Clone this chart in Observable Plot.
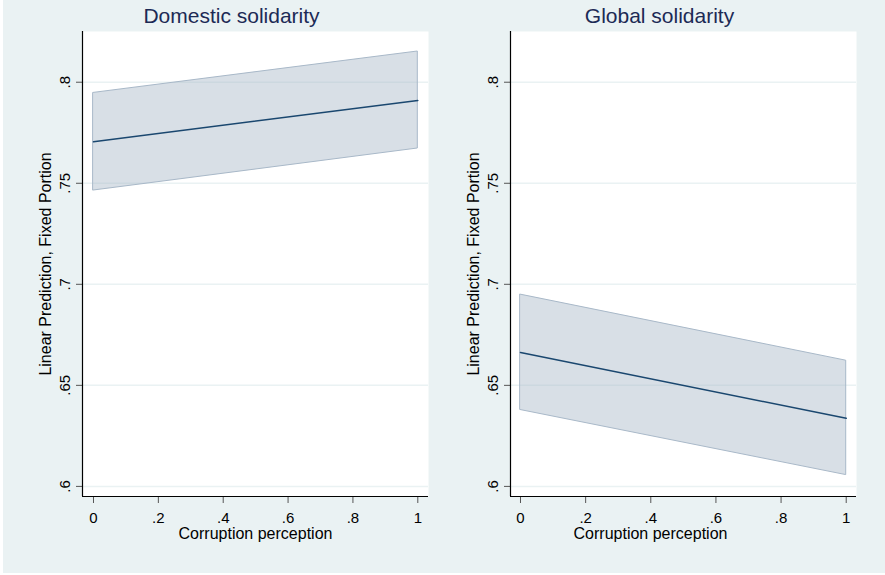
<!DOCTYPE html>
<html>
<head>
<meta charset="utf-8">
<script src="https://cdn.jsdelivr.net/npm/d3@7"></script>
<script src="https://cdn.jsdelivr.net/npm/@observablehq/plot@0.6"></script>
<style>
  html, body { margin: 0; padding: 0; background: #ffffff; }
  body { width: 885px; height: 575px; position: relative; overflow: hidden; font-family: "Liberation Sans", Arial, sans-serif; }
  #bg { position: absolute; left: 3px; top: 0; width: 882px; height: 573px; background: #eaf2f3; }
  .panel { position: absolute; top: 0; }
  .panel svg { background: transparent !important; overflow: visible; }
</style>
</head>
<body>
<div id="bg"></div>
<div id="left" class="panel" style="left:0px"></div>
<div id="right" class="panel" style="left:442px"></div>
<script>
// ---- data ----
const corruption = [0, 1];
const domesticFit = [0.7705, 0.7910];
const domesticLo  = [0.7464, 0.7672];
const domesticHi  = [0.7947, 0.8152];
const globalFit = [0.6663, 0.6337];
const globalLo  = [0.6378, 0.6056];
const globalHi  = [0.6949, 0.6622];

const xTicks = [0, 0.2, 0.4, 0.6, 0.8, 1];
const yTicks = [0.6, 0.65, 0.7, 0.75, 0.8];
const panelTitles = ["Domestic solidarity", "Global solidarity"];
const yTitle = "Linear Prediction, Fixed Portion";
const xTitle = "Corruption perception";

const fmt = d => String(d).replace(/^0(?=\.)/, "");

function panel({title, fit, lo, hi, width, marginLeft, marginRight, xDomain, xTitleDx}) {
  const rows = corruption.map((x, i) => ({x, fit: fit[i], lo: lo[i], hi: hi[i]}));
  const yDomain = [0.595, 0.8251];
  return Plot.plot({
    width, height: 575,
    marginLeft, marginRight, marginTop: 31, marginBottom: 79,
    style: {fontFamily: '"Liberation Sans", Arial, sans-serif', fontSize: "15px", background: "transparent", color: "black"},
    x: {domain: xDomain, ticks: xTicks, tickFormat: fmt},
    y: {domain: yDomain, ticks: yTicks, tickFormat: fmt},
    marks: [
      Plot.frame({fill: "white", stroke: null}),
      Plot.gridY(yTicks, {stroke: "#eaf2f3", strokeOpacity: 1, strokeWidth: 1.5}),
      Plot.areaY(rows, {x: "x", y1: "lo", y2: "hi", fill: "#a8b8c8", fillOpacity: 0.45, stroke: "#a8b8c8", strokeWidth: 1}),
      Plot.line(rows, {x: "x", y: "fit", stroke: "#1a476f", strokeWidth: 1.5}),
      Plot.axisY(yTicks, {tickFormat: fmt, tickRotate: -90, tickSize: 6, tickPadding: 6.5, fontSize: 15, stroke: "#555", label: null}),
      Plot.axisX(xTicks, {tickFormat: fmt, tickSize: 7, tickPadding: 8.5, fontSize: 15, stroke: "#555", label: null}),
      Plot.ruleX([xDomain[0]], {stroke: "black", strokeWidth: 1.2}),
      Plot.ruleY([yDomain[0]], {stroke: "black", strokeWidth: 1.2}),
      Plot.text([yTitle], {frameAnchor: "left", rotate: -90, dx: -36.5, fontSize: 16, fill: "black", textAnchor: "middle", lineAnchor: "middle"}),
      Plot.text([xTitle], {frameAnchor: "bottom", dx: xTitleDx, dy: 37, fontSize: 16, fill: "black", textAnchor: "middle", lineAnchor: "middle"}),
      Plot.text([title], {frameAnchor: "top", dx: -24, dy: -15, fontSize: 21, fill: "#1c2a55", textAnchor: "middle", lineAnchor: "middle"})
    ]
  });
}

document.getElementById("left").append(panel({
  title: panelTitles[0], fit: domesticFit, lo: domesticLo, hi: domesticHi,
  width: 442, marginLeft: 82, marginRight: 14, xDomain: [-0.0339, 1.033], xTitleDx: 0
}));
document.getElementById("right").append(panel({
  title: panelTitles[1], fit: globalFit, lo: globalLo, hi: globalHi,
  width: 443, marginLeft: 68, marginRight: 29, xDomain: [-0.0307, 1.0316], xTitleDx: -33
}));
</script>
</body>
</html>
